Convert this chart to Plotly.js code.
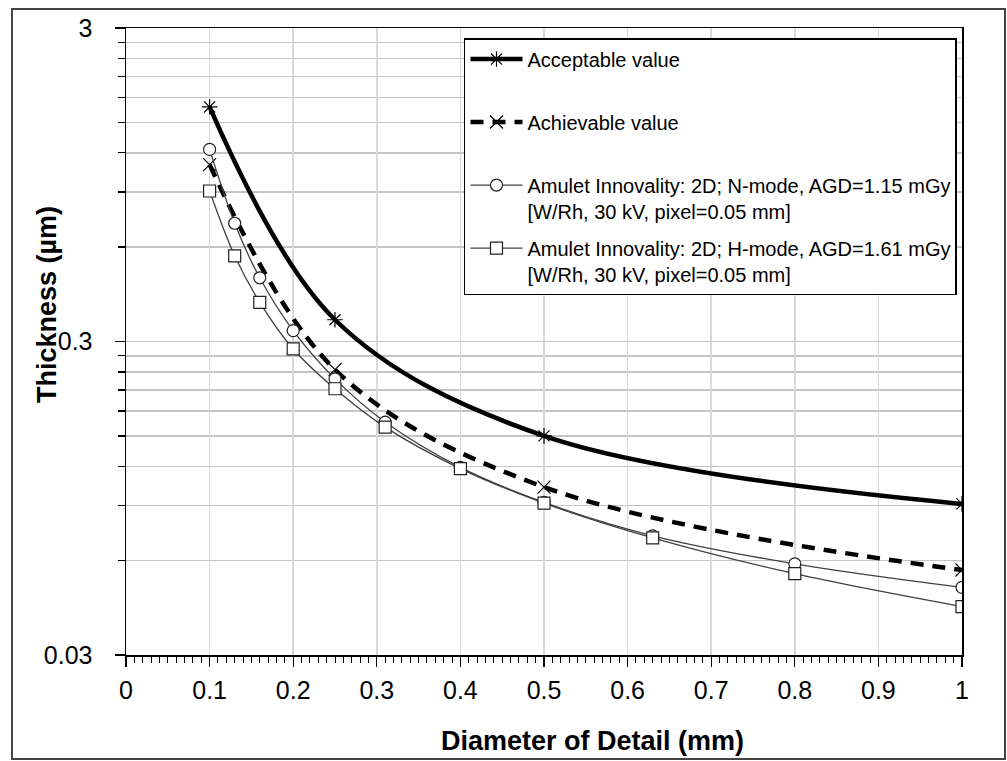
<!DOCTYPE html>
<html>
<head>
<meta charset="utf-8">
<script src="https://cdn.plot.ly/plotly-3.0.1.min.js"></script>
<style>
  html, body { margin: 0; padding: 0; background: #ffffff; }
  #chart { width: 1007px; height: 761px; }
</style>
</head>
<body>
<div id="chart"></div>
<script>
// Reference curves (EUREF limiting values)
var xStandard = [0.1, 0.25, 0.5, 1.0];
var acceptableValues = [1.68, 0.352, 0.150, 0.091];
var achievableValues = [1.10, 0.244, 0.103, 0.056];

// Measured system
var xAmulet = [0.1, 0.13, 0.16, 0.2, 0.25, 0.31, 0.4, 0.5, 0.63, 0.8, 1.0];
var nModeValues = [1.23, 0.715, 0.479, 0.325, 0.228, 0.166, 0.119, 0.092, 0.072, 0.0586, 0.0493];
var hModeValues = [0.906, 0.563, 0.400, 0.284, 0.212, 0.160, 0.118, 0.0915, 0.0709, 0.0545, 0.0428];

var seriesNames = [
  'Acceptable value<br>\u00a0',
  'Achievable value<br>\u00a0',
  'Amulet Innovality: 2D; N-mode, AGD=1.15 mGy<br>[W/Rh, 30 kV, pixel=0.05 mm]',
  'Amulet Innovality: 2D; H-mode, AGD=1.61 mGy<br>[W/Rh, 30 kV, pixel=0.05 mm]'
];

// Axis ticks
var xTickVals = [0, 0.1, 0.2, 0.3, 0.4, 0.5, 0.6, 0.7, 0.8, 0.9, 1];
var xTickText = ['0', '0.1', '0.2', '0.3', '0.4', '0.5', '0.6', '0.7', '0.8', '0.9', '1'];
var yTickVals = [0.03, 0.3, 3];
var yTickText = ['0.03', '0.3', '3'];
var yMinorVals = [0.06, 0.09, 0.12, 0.15, 0.18, 0.21, 0.24, 0.27,
                  0.6, 0.9, 1.2, 1.5, 1.8, 2.1, 2.4, 2.7];

var FONT = 'Arial, "Liberation Sans", sans-serif';

var traces = [
  {
    x: xStandard, y: acceptableValues, name: seriesNames[0], legendgroup: 'g1',
    type: 'scatter', mode: 'lines+markers',
    line: {color: '#000000', width: 4.5, shape: 'spline'},
    marker: {symbol: 'asterisk-open', size: 13, color: '#000000', line: {color: '#000000', width: 1.2}}
  },
  {
    x: xStandard, y: achievableValues, name: seriesNames[1], legendgroup: 'g2',
    type: 'scatter', mode: 'lines+markers',
    line: {color: '#000000', width: 4.5, shape: 'spline', dash: '13px,9px'},
    marker: {symbol: 'x-thin-open', size: 13, color: '#000000', line: {color: '#000000', width: 1.2}}
  },
  {
    x: xAmulet, y: nModeValues, name: seriesNames[2], legendgroup: 'g3',
    type: 'scatter', mode: 'lines+markers',
    line: {color: '#404040', width: 1.3, shape: 'spline'},
    marker: {symbol: 'circle', size: 12, color: '#ffffff', line: {color: '#202020', width: 1.2}}
  },
  {
    x: xAmulet, y: hModeValues, name: seriesNames[3], legendgroup: 'g4',
    type: 'scatter', mode: 'lines+markers',
    line: {color: '#404040', width: 1.3, shape: 'spline'},
    marker: {symbol: 'square', size: 12, color: '#ffffff', line: {color: '#202020', width: 1.2}}
  }
];

var layout = {
  width: 1007, height: 761,
  paper_bgcolor: '#ffffff', plot_bgcolor: '#ffffff',
  margin: {l: 126, r: 45, t: 28, b: 106},
  font: {family: FONT, color: '#000000', size: 20},
  showlegend: true,
  legend: {
    x: 0.4043, y: 0.984, xanchor: 'left', yanchor: 'top',
    bgcolor: '#ffffff', bordercolor: '#000000', borderwidth: 1.5,
    font: {family: FONT, size: 20, color: '#000000'},
    tracegroupgap: 8, valign: 'top', itemwidth: 52
  },
  xaxis: {
    range: [0, 1], type: 'linear',
    tickmode: 'array', tickvals: xTickVals, ticktext: xTickText,
    ticks: 'outside', ticklen: 10, tickwidth: 1.3, tickcolor: '#000000',
    ticklabelstandoff: 2,
    tickfont: {family: FONT, size: 25, color: '#000000'},
    showline: true, linecolor: '#000000', linewidth: 1.5, mirror: true,
    showgrid: true, gridcolor: '#d9d9d9', gridwidth: 1.5,
    zeroline: false,
    minor: {dtick: 0.01, tick0: 0, ticks: 'outside', ticklen: 6, tickwidth: 1, tickcolor: '#000000', showgrid: false}
  },
  yaxis: {
    type: 'log', range: [Math.log10(0.03), Math.log10(3)],
    tickmode: 'array', tickvals: yTickVals, ticktext: yTickText,
    ticks: 'outside', ticklen: 10, tickwidth: 1.3, tickcolor: '#000000',
    ticklabelstandoff: 17,
    tickfont: {family: FONT, size: 25, color: '#000000'},
    showline: true, linecolor: '#000000', linewidth: 1.5, mirror: true,
    showgrid: true, gridcolor: '#c4c4c4', gridwidth: 1.5,
    zeroline: false,
    minor: {tickmode: 'array', tickvals: yMinorVals, ticks: 'outside', ticklen: 7, tickwidth: 1.3,
            tickcolor: '#000000', showgrid: true, gridcolor: '#c4c4c4', gridwidth: 1.5}
  },
  annotations: [
    {
      text: '<b>Diameter of Detail (mm)</b>', xref: 'paper', yref: 'paper',
      x: (592 - 126) / 836, y: (655 - 741) / 627, xanchor: 'center', yanchor: 'middle',
      showarrow: false, font: {family: FONT, size: 27, color: '#000000'}
    },
    {
      text: '<b>Thickness (µm)</b>', xref: 'paper', yref: 'paper',
      x: (47 - 126) / 836, y: (655 - 305) / 627, xanchor: 'center', yanchor: 'middle',
      textangle: -90, showarrow: false, font: {family: FONT, size: 27, color: '#000000'}
    }
  ],
  shapes: [
    {
      type: 'rect', xref: 'paper', yref: 'paper',
      x0: (12 - 126) / 836, x1: (1005 - 126) / 836,
      y0: (655 - 759) / 627, y1: (655 - 9) / 627,
      line: {color: '#444444', width: 2}, fillcolor: 'rgba(0,0,0,0)', layer: 'below'
    }
  ]
};

Plotly.newPlot('chart', traces, layout, {displayModeBar: false, staticPlot: true});
</script>
</body>
</html>
